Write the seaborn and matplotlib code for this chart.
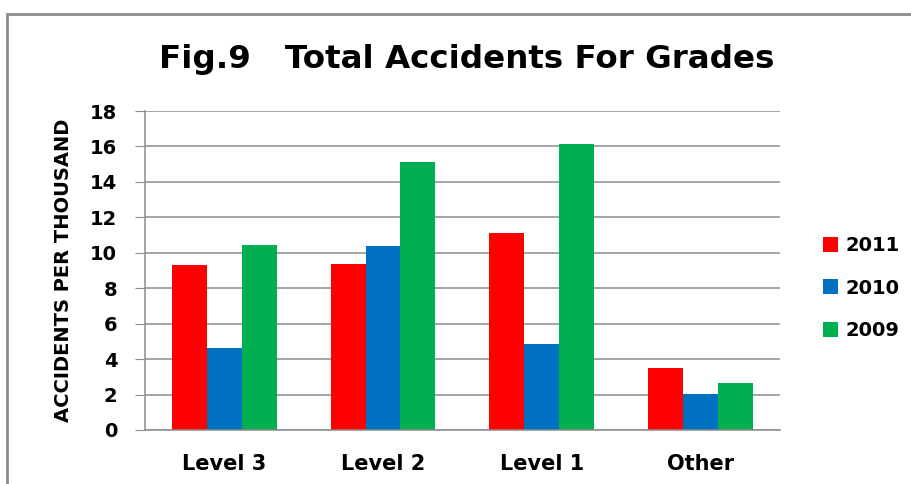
import pandas as pd
import matplotlib
matplotlib.use('Agg')
import matplotlib.pyplot as plt
import seaborn as sns
from matplotlib.patches import Rectangle

# Data
grades = ['Level 3', 'Level 2', 'Level 1', 'Other']
years = ['2011', '2010', '2009']
acc_2011 = [9.33, 9.38, 11.12, 3.49]
acc_2010 = [4.62, 10.41, 4.86, 2.02]
acc_2009 = [10.46, 15.12, 16.12, 2.64]
colors = ['#ff0000', '#0070c0', '#00b050']

df = pd.DataFrame({
    'grade': grades * 3,
    'year': [y for y in years for _ in grades],
    'value': acc_2011 + acc_2010 + acc_2009,
})

sns.set_style('white')
plt.rcParams['font.family'] = ['DejaVu Sans']
plt.rcParams['font.weight'] = 'bold'
plt.rcParams['text.color'] = 'black'
plt.rcParams['axes.labelcolor'] = 'black'
plt.rcParams['xtick.color'] = 'black'
plt.rcParams['ytick.color'] = 'black'

fig = plt.figure(figsize=(9.12, 4.84), dpi=100)
ax = fig.add_axes([0.159, 0.1116, 0.696, 0.659])

sns.barplot(data=df, x='grade', y='value', hue='year', hue_order=years,
            palette=colors, width=0.66, saturation=1, ax=ax,
            edgecolor='none', linewidth=0)

ax.set_ylim(0, 18)
ax.set_xlim(-0.5, 3.5)
ax.set_yticks(range(0, 19, 2))
ax.yaxis.grid(True, color='#8c8c8c', linewidth=1.1)
ax.set_axisbelow(True)
for side in ['top', 'right']:
    ax.spines[side].set_visible(False)
for side in ['left', 'bottom']:
    ax.spines[side].set_color('#8c8c8c')
    ax.spines[side].set_linewidth(1.1)
ax.tick_params(axis='y', left=True, length=7, color='#8c8c8c', labelcolor='black',
               labelsize=14, pad=13)
ax.tick_params(axis='x', bottom=False, length=0, labelcolor='black',
               labelsize=15, pad=17)
for lab in ax.get_xticklabels() + ax.get_yticklabels():
    lab.set_fontweight('bold')

ax.set_xlabel('')
ax.set_ylabel('ACCIDENTS PER THOUSAND', fontsize=14, fontweight='bold',
              labelpad=12, color='black')

ax.legend(loc='center left', bbox_to_anchor=(1.04, 0.445), frameon=False,
          handlelength=0.8, handleheight=0.8, handletextpad=0.4,
          labelspacing=1.2, prop={'weight': 'bold', 'size': 14})

fig.text(0.512, 1 - 68 / 484, 'Fig.9   Total Accidents For Grades', ha='center',
         va='baseline', fontsize=23.4, fontweight='bold', color='black')

# outer frame (cut at right and bottom in the reference)
fig.patches.append(Rectangle((7 / 912, -0.1), 1.2, 1 - 14 / 484 + 0.1,
                             transform=fig.transFigure, fill=False,
                             edgecolor='#8c8c8c', linewidth=2))

fig.savefig('out.png', dpi=100)
